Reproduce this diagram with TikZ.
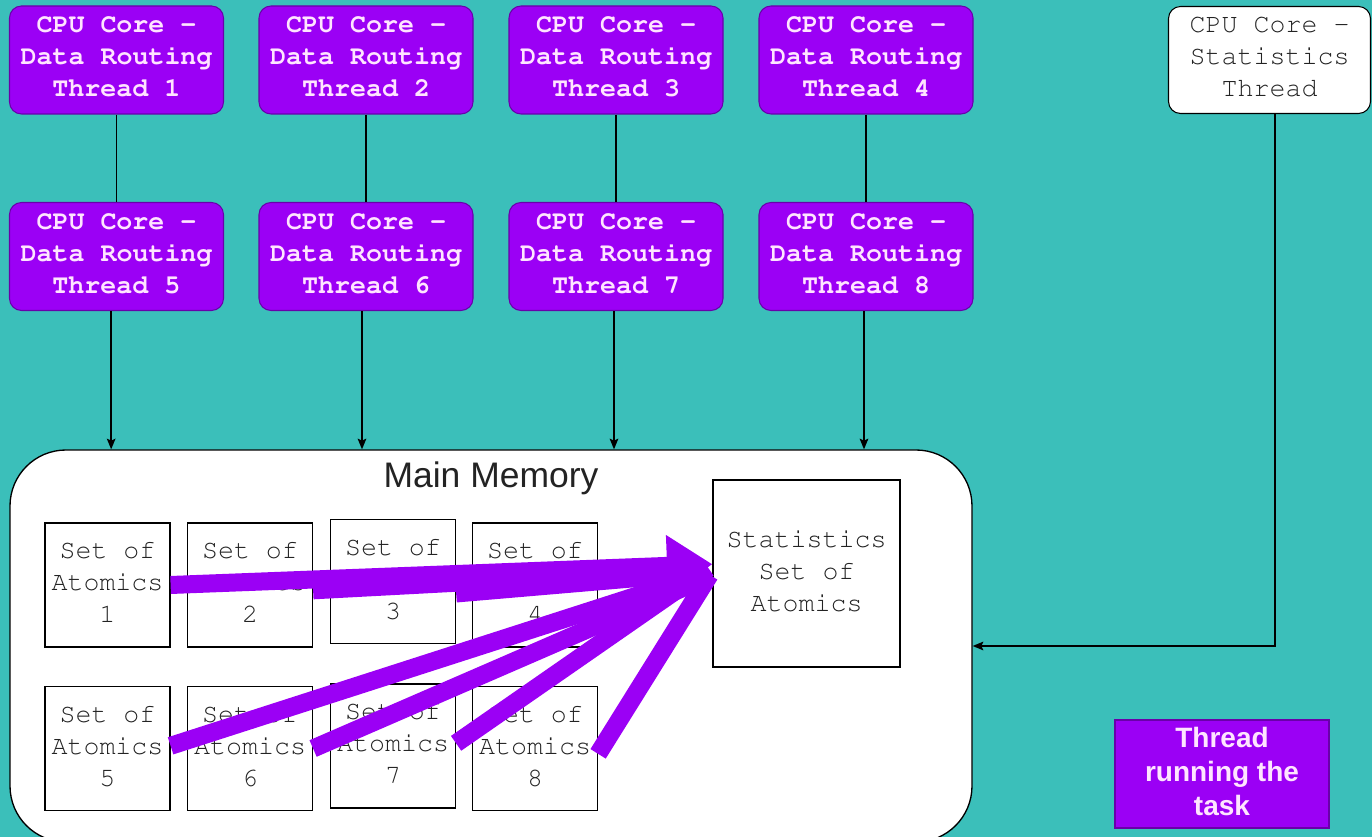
\documentclass[tikz,border=0pt]{standalone}
\usepackage[T1]{fontenc}
\usepackage{fontspec}
\setmainfont{Liberation Sans}
\newcommand\courfam{\fontencoding{T1}\fontfamily{pcr}\selectfont}
\usetikzlibrary{arrows.meta,calc}

\definecolor{bgteal}{RGB}{59,191,186}
\definecolor{violetfill}{RGB}{155,0,245}
\definecolor{violetedge}{RGB}{105,0,170}
\definecolor{pinktext}{RGB}{255,228,255}
\definecolor{inkgray}{RGB}{35,35,35}

\tikzset{
  routebox/.style={draw=violetedge, fill=violetfill, rounded corners=9pt,
    minimum width=160.5pt, minimum height=81pt, inner sep=0pt, align=center,
    text=pinktext, line width=0.8pt, text depth=4.5pt,
    font=\courfam\bfseries\fontsize{20}{24}\selectfont},
  statthread/.style={draw=black, fill=white, rounded corners=9pt,
    minimum width=151.5pt, minimum height=80.25pt, inner sep=0pt, align=center,
    text=inkgray, line width=0.8pt, text depth=4.5pt,
    font=\courfam\fontsize{20}{24}\selectfont},
  membox/.style={draw=black, fill=white, rounded corners=42pt,
    minimum width=721.5pt, minimum height=294pt, inner sep=0pt, line width=1pt},
  memtitle/.style={font=\fontsize{26.6}{30}\selectfont, text=inkgray, inner sep=0pt},
  atombox/.style={draw=black, fill=white, minimum width=93.75pt, minimum height=93pt,
    inner sep=0pt, align=center, text=inkgray, line width=0.9pt, text depth=4.5pt,
    font=\courfam\fontsize{20}{24}\selectfont},
  legendbox/.style={draw=violetedge, fill=violetfill, minimum width=160.5pt,
    minimum height=81pt, inner sep=0pt, align=center, text=pinktext, line width=0.8pt,
    text depth=4.5pt, font=\bfseries\fontsize{21}{25.5}\selectfont},
  link/.style={draw=black, line width=1.1pt},
  linkarrow/.style={link, -{Stealth[length=8pt,width=6.5pt,inset=1.5pt]}},
  band/.style={draw=violetfill, line width=13.5pt},
}

\begin{document}
\begin{tikzpicture}[x=0.75pt,y=-0.75pt]
\useasboundingbox (0,0) rectangle (1372,837);
\clip (0,0) rectangle (1372,837);
\fill[bgteal] (0,0) rectangle (1372,837);

% data routing threads
\node[routebox] (t1) at (116.5,60)  {CPU Core -\\Data Routing\\Thread 1};
\node[routebox] (t2) at (366,60)    {CPU Core -\\Data Routing\\Thread 2};
\node[routebox] (t3) at (616,60)    {CPU Core -\\Data Routing\\Thread 3};
\node[routebox] (t4) at (866,60)    {CPU Core -\\Data Routing\\Thread 4};
\node[routebox] (t5) at (116.5,256.5) {CPU Core -\\Data Routing\\Thread 5};
\node[routebox] (t6) at (366,256.5)   {CPU Core -\\Data Routing\\Thread 6};
\node[routebox] (t7) at (616,256.5)   {CPU Core -\\Data Routing\\Thread 7};
\node[routebox] (t8) at (866,256.5)   {CPU Core -\\Data Routing\\Thread 8};

% statistics thread
\node[statthread] (sthr) at (1269.5,60) {CPU Core -\\Statistics\\Thread};

% main memory
\node[membox] (mem) at (491,646) {};
\node[memtitle] (memt) at (491,478) {Main Memory};

\node[atombox] (s1) at (107.5,585) {Set of\\Atomics\\1};
\node[atombox] (s2) at (250,585)   {Set of\\Atomics\\2};
\node[atombox] (s3) at (393,581.5) {Set of\\Atomics\\3};
\node[atombox] (s4) at (535,585)   {Set of\\Atomics\\4};
\node[atombox] (s5) at (107.5,748.5) {Set of\\Atomics\\5};
\node[atombox] (s6) at (250,748.5)   {Set of\\Atomics\\6};
\node[atombox] (s7) at (393,746)     {Set of\\Atomics\\7};
\node[atombox] (s8) at (535,748.5)   {Set of\\Atomics\\8};

\node[atombox, minimum width=140.25pt, minimum height=140.25pt] (stats) at (806.5,573.5)
  {Statistics\\Set of\\Atomics};

% legend
\node[legendbox] (leg) at (1222,774) {Thread\\running the\\task};

% thread chains
\foreach \a/\b in {t1/t5,t2/t6,t3/t7,t4/t8}
  \draw[link] (\a) -- (\b);
\foreach \b/\s in {t5/-4,t6/-3,t7/-1.5,t8/-1.5}
  \draw[linkarrow] ([xshift=\s pt]\b.south) -- ([xshift=\s pt]\b.south |- mem.north);
\draw[linkarrow] ([xshift=4pt]sthr.south) |- (mem.east);

% atomic updates flowing into the statistics set
\coordinate (tipA) at ([yshift=7pt]stats.west);
\coordinate (tipB) at ([xshift=-5pt,yshift=3pt]stats.west);
\coordinate (tipC) at ([xshift=-5pt,yshift=1pt]stats.west);
\coordinate (tipD) at ([xshift=-5pt,yshift=0pt]stats.west);
\coordinate (tipE) at ([xshift=-4pt,yshift=-3pt]stats.west);
\coordinate (tipF) at ([xshift=-3pt,yshift=4pt]stats.west);
\coordinate (tipG) at ([xshift=-2pt,yshift=-1pt]stats.west);

\draw[band] ([yshift=-9pt]s3.east) -- (tipC);
\draw[band] ([yshift=-4pt]s2.east) -- (tipB);
\draw[band] ([yshift=2pt]s5.east) -- (tipD);
\draw[band] (s6.east) -- (tipE);
\draw[band] ([yshift=2pt]s7.east) -- (tipF);
\draw[band] ([yshift=-4pt]s8.east) -- (tipG);
\draw[band, -{Triangle[length=34pt,width=44pt]}] (s1.east) -- (tipA);
\end{tikzpicture}
\end{document}
